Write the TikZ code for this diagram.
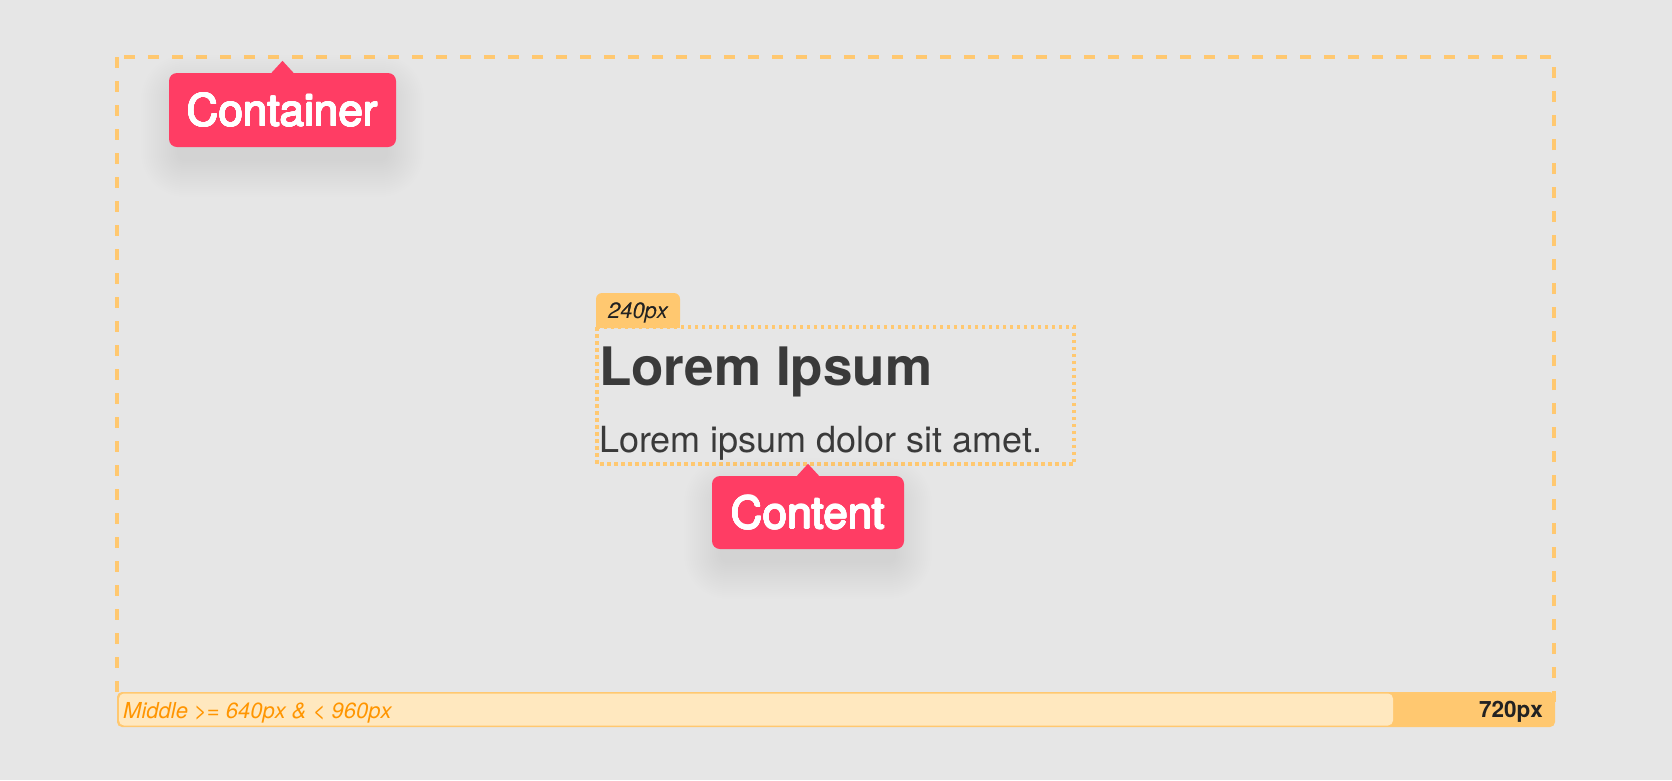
\documentclass[tikz,border=0pt]{standalone}
\usepackage{fontspec}
\usepackage[copies]{contour}
\setmainfont{TeX Gyre Heros}
\contourlength{0.55pt}
\contournumber{16}
\definecolor{bg}{HTML}{E6E6E6}
\definecolor{pinkred}{HTML}{FF3D64}
\definecolor{guide}{HTML}{FFC870}
\definecolor{guidelight}{HTML}{FFE8BF}
\definecolor{guidetext}{HTML}{FF9500}
\definecolor{ink}{HTML}{3A3A3A}
\definecolor{darkink}{HTML}{222222}
% soft shadow under a callout: centre x, centre y, width, height
\newcommand\softshadow[4]{%
  \foreach \s in {0,2,...,36}{
    \pgfmathsetmacro\rr{8+\s}
    \fill[black, opacity=0.004, rounded corners=\rr pt]
      ({#1-#3/2-\s+8},{#2-#4/2+18-\s}) rectangle ({#1+#3/2+\s-8},{#2+#4/2+14+\s});
  }}
\newcommand\calloutText[1]{\contour{white}{#1}}

\begin{document}
\begin{tikzpicture}[x=1pt, y=-1pt,
    callout/.style={fill=pinkred, text=white, rounded corners=8pt, inner sep=0pt,
      font=\fontsize{44}{44}\selectfont, text height=32pt, text depth=0pt},
    sizetag/.style={fill=guide, text=darkink, rounded corners=6pt, inner sep=0pt,
      minimum width=84pt, minimum height=35pt, text height=16pt, text depth=0pt,
      font=\fontsize{22}{22}\selectfont\itshape},
    guideline/.style={draw=guide, line width=4pt, dash pattern=on 11pt off 13pt},
    dotline/.style={draw=guide, line width=3.5pt, dash pattern=on 3.5pt off 3.5pt}]
  \fill[bg] (0,0) rectangle (1672,780);
  \useasboundingbox (0,0) rectangle (1672,780);

  % container
  \draw[guideline] (117,57) rectangle (1554,705);

  % breakpoint bar
  \fill[guide, rounded corners=5pt] (117,692) rectangle (1555,727);
  \node[fill=guidelight, rounded corners=5pt, minimum width=1274pt, minimum height=32pt, inner sep=0pt] (range) at (756,709.5) {};
  \node[anchor=base west, inner sep=0pt, text=guidetext, font=\fontsize{22}{22}\selectfont\itshape] (rangetext) at (123,718) {Middle >= 640px \& < 960px};
  \node[anchor=base east, inner sep=0pt, text=darkink, font=\fontsize{22.5}{22}\selectfont\bfseries] (width) at (1543,717) {720px};

  % content
  \draw[dotline] (597,327) rectangle (1074,464);
  \node[sizetag] (size) at (638,310.5) {240px};
  \fill[guide] (size.west) rectangle (size.south east);
  \node at (size) [sizetag, fill=none] {240px};
  \node[anchor=base west, inner sep=0pt, text=ink, font=\fontsize{53}{53}\selectfont\bfseries] (title) at (599,385) {Lorem Ipsum};
  \node[anchor=base west, inner sep=0pt, text=ink, font=\fontsize{36}{36}\selectfont] (body) at (599,452) {Lorem ipsum dolor sit amet.};

  % labels
  \softshadow{282.5}{110}{227}{74}
  \node[callout, minimum width=227pt, minimum height=74pt] (containerlbl) at (282.5,110) {\calloutText{Container}};
  \fill[pinkred] ([xshift=-11pt]containerlbl.north) -- ([yshift=12pt]containerlbl.north) -- ([xshift=11pt]containerlbl.north) -- cycle;
  \softshadow{808}{512.5}{192}{73}
  \node[callout, minimum width=192pt, minimum height=73pt] (contentlbl) at (808,512.5) {\calloutText{Content}};
  \fill[pinkred] ([xshift=-11pt]contentlbl.north) -- ([yshift=12pt]contentlbl.north) -- ([xshift=11pt]contentlbl.north) -- cycle;
\end{tikzpicture}
\end{document}
